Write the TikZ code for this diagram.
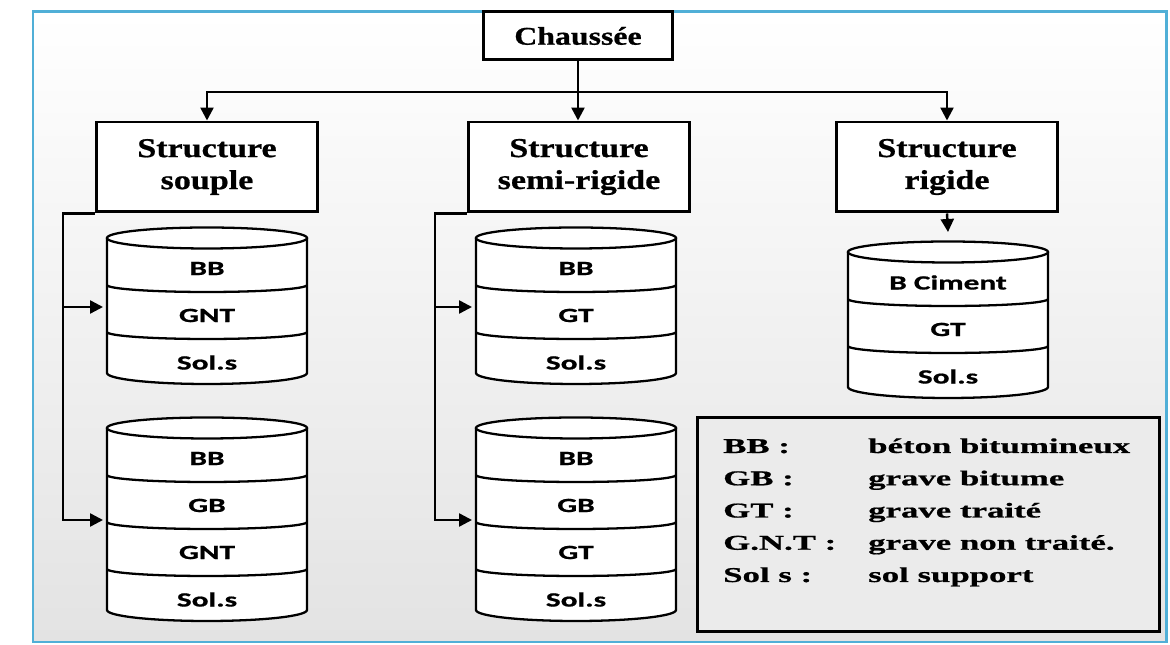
\documentclass[tikz,border=0pt]{standalone}
\usepackage{fontspec}
\usetikzlibrary{arrows.meta}
\newfontfamily\headfont[FakeStretch=1.25, FakeBold=0.8]{Liberation Serif}
\newfontfamily\keyfont[FakeStretch=1.65, FakeBold=0.8]{Liberation Serif}
\newfontfamily\layerfont[FakeStretch=1.55, FakeBold=0.8]{Carlito}
\definecolor{framebl}{RGB}{80,175,215}
\begin{document}
\begin{tikzpicture}[x=0.02cm, y=0.02cm, line width=1.4pt,
	structbox/.style={draw, line width=1.7pt, fill=white, align=center,
		inner sep=0pt, minimum width=4.44cm, minimum height=1.8cm,
		font=\headfont\bfseries\fontsize{15.5}{18.2}\selectfont},
	topbox/.style={structbox, minimum width=3.8cm, minimum height=0.96cm,
		font=\headfont\bfseries\fontsize{14.5}{17}\selectfont},
	cyl/.style={draw, fill=white, line width=1.3pt},
	layer/.style={inner sep=0pt, font=\layerfont\bfseries\fontsize{11.5}{13}\selectfont},
	key/.style={anchor=base west, inner sep=0pt,
		font=\keyfont\bfseries\fontsize{12}{14}\selectfont},
	link/.style={-{Triangle[length=0.26cm, width=0.26cm]}, line width=1.4pt}]
	\useasboundingbox (0,0) rectangle (1170,645);
	\fill[white] (0,0) rectangle (1170,645);
	\shade[top color=white, bottom color=black!11] (33,3) rectangle (1166,633);
	\draw[framebl, line width=1.7pt] (33,3) rectangle (1166,633);
	
	% top of the tree
	\node[topbox] (ch) at (578,609) {Chaussée};
	\node[structbox] (souple) at (207,478) {Structure\\souple};
	\node[structbox] (semi) at (579,478) {Structure\\semi-rigide};
	\node[structbox] (rigide) at (947,478) {Structure\\rigide};
	\coordinate (bus) at (578,553);
	\draw[link] (ch.south) -- (ch.south |- semi.north);
	\draw[link] (bus) -| (souple.north);
	\draw[link] (bus) -| (rigide.north);
	
	% layered cylinders: x centre / top (px from top) / layers / arrow depth / name
	\foreach \cx/\top/\n/\hit/\id/\layers in {%
		207/238/3/69/sA/{BB,GNT,Sol.s},
		207/428/4/92/sB/{BB,GB,GNT,Sol.s},
		576/238/3/69/mA/{BB,GT,Sol.s},
		576/428/4/92/mB/{BB,GB,GT,Sol.s},
		948/252/3/0/rA/{B Ciment,GT,Sol.s}} {
		\pgfmathsetmacro\yt{645-\top}
		\pgfmathsetmacro\yb{645-\top-47*\n+6}
		\filldraw[cyl] (\cx-100,\yt) -- (\cx-100,\yb)
		arc[start angle=180, end angle=360, x radius=100, y radius=11]
		-- (\cx+100,\yt);
		\draw[cyl] (\cx,\yt) ellipse[x radius=100, y radius=10.5];
		\foreach \lab [count=\k] in \layers {
			\ifnum\k<\n
			\draw[cyl, fill=none] (\cx-100,{\yt-47*\k})
			arc[start angle=180, end angle=360, x radius=100, y radius=7];
			\fi
			\node[layer] (\id-\k) at (\cx,{\yt-47*(\k-0.5)-7}) {\lab};
		}
		\coordinate (\id-in) at (\cx-104,\yt-\hit);
		\coordinate (\id-top) at (\cx,\yt+20);
	}
	
	% feeds into the cylinders
	\coordinate (sJ) at (63,0);
	\coordinate (mJ) at (435,0);
	\draw[link] (souple.south west) -- (souple.south west -| sJ) |- (sB-in);
	\draw[link] (sJ |- sA-in) -- (sA-in);
	\draw[link] (semi.south west) -- (semi.south west -| mJ) |- (mB-in);
	\draw[link] (mJ |- mA-in) -- (mA-in);
	\draw[link] (rigide.south) -- (rA-top);
	
	% legend
	\node[draw, line width=1.7pt, fill=black!8, inner sep=0pt,
	minimum width=9.26cm, minimum height=4.3cm] (legend) at (928.5,120.5) {};
	\foreach \abbr/\desc [count=\k] in {BB :/béton bitumineux,
		GB :/grave bitume, GT :/grave traité, G.N.T :/grave non traité.,
		Sol s :/sol support} {
		\node[key] (abbr-\k) at (722,{192-32.25*(\k-1)}) {\abbr};
		\node[key] (desc-\k) at (867,{192-32.25*(\k-1)}) {\desc};
	}
\end{tikzpicture}
\end{document}
